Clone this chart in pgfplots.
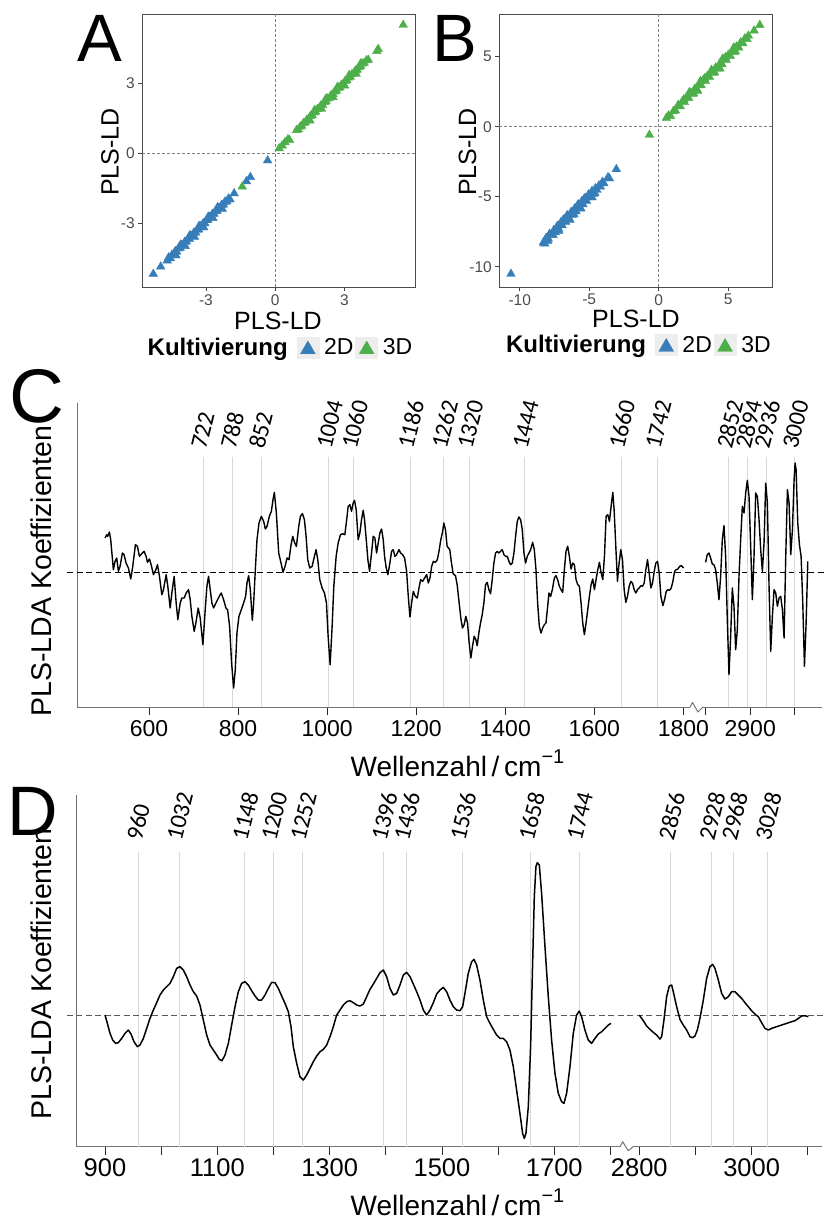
\documentclass[border=0pt]{standalone}
\usepackage{pgfplots}
\pgfplotsset{compat=1.18}
\usepackage{fontspec}
\setmainfont{Liberation Sans}
\newfontfamily\calib{Carlito}
\definecolor{cblue}{RGB}{55,126,184}
\definecolor{cgreen}{RGB}{77,175,74}
\newcommand{\fs}[1]{\fontsize{#1}{#1}\selectfont}
\tikzset{vl/.style={black!15, line width=0.9pt}}
\pgfplotsset{
 sc/.style={scale only axis, width=273pt, height=273pt, anchor=south west,
   axis line style={draw=black!70, line width=0.9pt},
   tick align=outside, xtick pos=left, ytick pos=left, major tick length=3.7pt,
   tick style={black!75, line width=0.9pt},
   tick label style={font=\fs{15.5}, text=black!70},
   /pgf/number format/assume math mode=true,
   clip=false,
   legend style={draw=none, fill=none, legend columns=-1, font=\fs{23}, inner sep=0pt,
     /tikz/every odd column/.append style={column sep=3pt}},
   legend cell align=left},
 tri/.style={only marks, color=#1, mark=triangle*, mark size=5pt, mark options={draw=#1, fill=#1, line width=0.4pt},
   legend image code/.code={\fill[black!7] (0pt,-10.5pt) rectangle (22pt,10.5pt); \draw[mark size=8.5pt] plot coordinates {(11pt,-2pt)};}},
 sp/.style={scale only axis, anchor=south west, clip=false,
   axis x line*=bottom, xtick align=outside, ytick=\empty,
   major tick length=8pt,
   axis line style={draw=black!55, line width=1pt},
   tick style={black!85, line width=0.9pt},
   /pgf/number format/assume math mode=true},
 cv/.style={black, line width=1.4pt, line join=round},
}
\newcommand{\ktitle}{\makebox[147pt][l]{\fs{24}\textbf{Kultivierung}}}
\begin{document}
\begin{tikzpicture}
\path[use as bounding box] (0,0) rectangle (826pt,-1220pt);

% ---------------- Panel A ----------------
\begin{axis}[sc, at={(142pt,-287pt)}, xmin=-5.77, xmax=6.05, ymin=-5.73, ymax=5.97,
  xtick={-3,0,3}, xticklabels={-3,0,3}, ytick={-3,0,3}, yticklabels={-3,0,3},
  legend style={at={(axis description cs:0.5,-0.2216)}, anchor=center}]
\draw[black!50, line width=0.7pt, dash pattern=on 3pt off 2pt] (axis cs:0,-5.73) -- (axis cs:0,5.97);
\draw[black!50, line width=0.7pt, dash pattern=on 3pt off 2pt] (axis cs:-5.77,0) -- (axis cs:6.05,0);
\addlegendimage{empty legend}\addlegendentry{\ktitle}
\addplot[tri=cblue] coordinates {
(-5.28,-5.17) (-4.96,-4.86) (-4.68,-4.60) (-4.62,-4.47) (-4.55,-4.50) (-4.48,-4.36) (-4.40,-4.33)
(-4.33,-4.20) (-4.27,-4.22) (-4.20,-4.08) (-4.12,-4.05) (-4.06,-3.93) (-3.98,-3.91) (-3.92,-3.80)
(-3.85,-3.78) (-3.78,-3.66) (-3.72,-3.67) (-3.65,-3.53) (-3.58,-3.52) (-3.52,-3.40) (-3.45,-3.40)
(-3.38,-3.27) (-3.32,-3.27) (-3.25,-3.13) (-3.18,-3.13) (-3.12,-3.00) (-3.05,-3.00) (-2.98,-2.87)
(-2.92,-2.86) (-2.85,-2.74) (-2.78,-2.73) (-2.72,-2.60) (-2.65,-2.60) (-2.58,-2.47) (-2.52,-2.47)
(-2.45,-2.34) (-2.38,-2.33) (-2.32,-2.21) (-2.25,-2.20) (-2.18,-2.08) (-2.10,-2.06) (-2.02,-1.94)
(-1.96,-1.98) (-1.78,-1.72) (-1.25,-1.20) (-1.08,-1.02) (-0.33,-0.31)
(-4.30,-4.38) (-3.90,-3.98) (-3.50,-3.58) (-3.10,-3.18) (-2.70,-2.78) (-2.30,-2.38)
(-4.10,-3.92) (-3.70,-3.52) (-3.30,-3.12) (-2.90,-2.72) (-2.50,-2.32)};
\addlegendentry{2D}
\addplot[tri=cgreen] coordinates {
(-1.43,-1.43) (0.17,0.21) (0.30,0.33) (0.42,0.47) (0.55,0.60) (0.62,0.56)
(0.92,0.99) (1.00,1.02) (1.08,1.14) (1.15,1.17) (1.22,1.29) (1.30,1.32) (1.37,1.44) (1.45,1.47)
(1.52,1.59) (1.60,1.62) (1.67,1.74) (1.75,1.77) (1.82,1.89) (1.90,1.92) (1.97,2.04) (2.05,2.07)
(2.12,2.19) (2.20,2.22) (2.27,2.34) (2.35,2.37) (2.42,2.49) (2.50,2.52) (2.57,2.64) (2.65,2.67)
(2.72,2.79) (2.80,2.82) (2.87,2.94) (2.95,2.97) (3.02,3.09) (3.10,3.12) (3.17,3.24) (3.25,3.27)
(3.32,3.39) (3.40,3.42) (3.47,3.54) (3.55,3.57) (3.62,3.69) (3.70,3.72) (3.77,3.84) (3.85,3.87)
(3.95,3.98) (4.03,4.00) (4.40,4.38) (4.46,4.46) (5.54,5.50)
(1.50,1.40) (2.00,1.90) (2.50,2.40) (3.00,2.90) (3.50,3.40)
(1.70,1.85) (2.20,2.35) (2.70,2.85) (3.20,3.35) (3.70,3.85)};
\addlegendentry{3D}
\end{axis}

% ---------------- Panel B ----------------
\begin{axis}[sc, at={(499pt,-287pt)}, xmin=-11.49, xmax=8.15, ymin=-11.45, ymax=8.05,
  xtick={-10,-5,0,5}, xticklabels={-10,-5,0,5}, ytick={-10,-5,0,5}, yticklabels={-10,-5,0,5},
  legend style={at={(axis description cs:0.505,-0.2125)}, anchor=center}]
\draw[black!50, line width=0.7pt, dash pattern=on 3pt off 2pt] (axis cs:0,-11.45) -- (axis cs:0,8.05);
\draw[black!50, line width=0.7pt, dash pattern=on 3pt off 2pt] (axis cs:-11.49,0) -- (axis cs:8.15,0);
\addlegendimage{empty legend}\addlegendentry{\ktitle}
\addplot[tri=cblue] coordinates {
(-10.63,-10.52) (-8.30,-8.28) (-8.20,-8.35) (-8.10,-7.95) (-7.95,-8.00) (-7.85,-7.65) (-7.70,-7.75)
(-7.55,-7.40) (-7.45,-7.55) (-7.30,-7.10) (-7.20,-7.30) (-7.05,-6.85) (-6.95,-7.05) (-6.80,-6.60)
(-6.70,-6.80) (-6.55,-6.35) (-6.45,-6.55) (-6.30,-6.10) (-6.20,-6.30) (-6.05,-5.85) (-5.95,-6.05)
(-5.80,-5.60) (-5.70,-5.80) (-5.55,-5.35) (-5.45,-5.55) (-5.30,-5.10) (-5.20,-5.30) (-5.05,-4.85)
(-4.95,-5.05) (-4.80,-4.60) (-4.70,-4.80) (-4.55,-4.40) (-4.45,-4.52) (-4.30,-4.20) (-4.20,-4.28)
(-4.05,-3.95) (-3.95,-4.05) (-3.65,-3.62) (-3.55,-3.70) (-3.05,-3.04)
(-7.60,-7.75) (-6.90,-6.70) (-6.10,-6.25) (-5.40,-5.20) (-4.60,-4.75) (-7.98,-8.15) (-5.00,-4.92)
(-7.20,-7.45) (-6.40,-6.65) (-5.60,-5.85) (-4.80,-5.05) (-6.60,-6.35) (-5.80,-5.55)};
\addlegendentry{2D}
\addplot[tri=cgreen] coordinates {
(-0.67,-0.59) (0.55,0.62) (0.70,0.80) (0.85,0.75) (1.05,1.10) (1.20,1.15) (1.40,1.55) (1.55,1.45)
(1.70,1.80) (1.85,1.75) (2.00,2.10) (2.15,2.05) (2.30,2.42) (2.45,2.35) (2.60,2.72) (2.75,2.65)
(2.90,3.02) (3.05,2.95) (3.20,3.32) (3.35,3.25) (3.50,3.62) (3.65,3.55) (3.80,3.92) (3.95,3.85)
(4.10,4.22) (4.25,4.15) (4.40,4.52) (4.55,4.45) (4.70,4.82) (4.85,4.75) (5.00,5.12) (5.15,5.05)
(5.30,5.42) (5.45,5.35) (5.60,5.72) (5.75,5.65) (5.90,6.02) (6.05,5.95) (6.20,6.30) (6.35,6.25)
(6.45,6.50) (6.86,6.86) (7.27,7.26)
(2.50,2.38) (3.30,3.45) (4.00,3.90) (4.80,4.95) (5.50,5.40) (1.80,1.95)
(2.20,2.45) (3.00,3.25) (3.80,4.05) (4.60,4.85) (5.40,5.65) (2.80,2.55) (4.40,4.15)};
\addlegendentry{3D}
\end{axis}

% ---------------- Panel C left ----------------
\begin{axis}[sp, at={(77pt,-707pt)}, width=613pt, height=304pt,
  xmin=438.3, xmax=1814.9, ymin=-405, ymax=507, axis y line*=left,
  xtick={600,800,...,1800}, xticklabels={600,800,1000,1200,1400,1600,1800},
  xticklabel shift=2pt, tick label style={font=\fs{23}}]
\pgfplotsinvokeforeach{722,788,852,1004,1060,1186,1262,1320,1444,1660,1742}{
  \draw[vl] (axis cs:#1,346) -- (axis cs:#1,-405);
  \node[rotate=76, anchor=west, inner sep=0pt, font=\calib\fs{24}] at ([xshift=-5pt]axis cs:#1,371.5) {#1};}
\draw[black, line width=0.9pt, dash pattern=on 6pt off 3.5pt] (axis cs:415.9,0) -- (axis cs:2120,0);
\addplot[cv] coordinates {
(501.25,102) (505,112) (507.25,107) (511,120) (514,97) (520,7) (523.75,32) (527.5,42) (531.25,2)
(535,17) (540.25,57) (544,52) (548.5,27) (553.75,12) (559,-21) (563.5,17) (569.5,82) (574,77)
(578.5,47) (583.75,55) (589,62) (593.5,47) (596.5,29) (601,39) (604.75,22) (610,-8) (615.25,7)
(619,22) (623.5,-13) (628.75,-68) (632.5,-53) (638.5,-8) (642.25,-43) (647.5,-108) (651.25,-63)
(656.5,-13) (661,-93) (664.75,-143) (670,-93) (673.75,-78) (679,-78) (683.5,-63) (688.75,-53)
(692.5,-83) (696.25,-133) (701.5,-178) (705.25,-153) (710.5,-108) (715,-138) (721,-218)
(726.25,-113) (730,-43) (733.75,-13) (737.5,-53) (741.25,-93) (745,-108) (750.25,-93) (754,-83)
(758.5,-71) (762.25,-63) (767.5,-83) (772.75,-108) (776.5,-113) (781,-163) (785.5,-273) (790,-348)
(793.75,-293) (797.5,-183) (802,-133) (807.25,-113) (812.5,-93) (817,-73) (820,-33) (823.75,-11)
(827.5,-53) (832,-145) (835,-93) (838.75,7) (842.5,97) (847,147) (852.25,167) (857.5,152)
(861.25,129) (865,137) (870.25,167) (874.75,182) (878.5,217) (881.5,239) (886,177) (891.25,57)
(896.5,27) (901,-1) (905.5,17) (910,42) (914.5,37) (919,82) (922.75,107) (927.25,87) (931,77)
(936.25,137) (940,167) (944.5,175) (949,157) (952.75,107) (956.5,37) (961,12) (966.25,17)
(971.5,47) (975.25,67) (979,37) (983.5,-23) (988.75,-48) (994,-63) (998.5,-93) (1002.25,-193)
(1006.75,-278) (1011.25,-163) (1015,-43) (1020.25,47) (1024.75,87) (1030,112) (1034.5,115)
(1039.75,112) (1043.5,152) (1047.25,197) (1051,202) (1054.75,182) (1058.5,207) (1061.5,215)
(1065.25,187) (1069.75,97) (1073.5,117) (1077.25,157) (1081,185) (1084,157) (1088.5,87)
(1091.5,37) (1095.25,2) (1099.75,57) (1103.5,107) (1107.25,102) (1111,57) (1114.75,87)
(1118.5,117) (1122.25,129) (1126,97) (1129,47) (1132.75,12) (1136.5,-8) (1141,27) (1144.75,62)
(1148.5,67) (1152.25,47) (1156,52) (1161.25,67) (1165,57) (1169.5,52) (1174,42) (1178.5,2)
(1182.25,-73) (1186,-135) (1189.75,-93) (1193.5,-58) (1198,-73) (1202.5,-78) (1206.25,-48)
(1210,-23) (1214.5,-28) (1219,-18) (1223.5,-8) (1227.25,-33) (1231,-18) (1234.75,17) (1238.5,32)
(1243,29) (1247.5,37) (1251.25,62) (1255,95) (1259.5,122) (1262,147) (1265.75,127) (1269.5,77)
(1275.5,67) (1279.25,27) (1283,-5) (1288.25,-11) (1292,-38) (1296.5,-93) (1300.25,-138)
(1304,-168) (1307.75,-158) (1311.5,-133) (1315.25,-153) (1319,-213) (1322.75,-258) (1326.5,-223)
(1330.25,-193) (1334,-203) (1337,-221) (1340.75,-183) (1344.5,-153) (1348.25,-128) (1352,-93)
(1355.75,-38) (1359.5,-31) (1363.25,-53) (1367,-65) (1370.75,-23) (1374.5,27) (1378.25,57)
(1382,62) (1385.75,57) (1389.5,62) (1393.25,67) (1397,52) (1400.75,47) (1404.5,47) (1408.25,32)
(1412,22) (1415.75,27) (1419.5,57) (1423.25,107) (1427,152) (1430.75,165) (1434.5,157)
(1438.25,127) (1442,57) (1445.75,27) (1449.5,47) (1453.25,57) (1457,67) (1461.5,89) (1465.25,67)
(1469,7) (1472.75,-93) (1476.5,-163) (1480.25,-183) (1484,-168) (1487.75,-158) (1491.5,-153)
(1494.5,-113) (1498.25,-63) (1502,-73) (1505.75,-53) (1510.25,-18) (1514,-11) (1517.75,-23)
(1521.5,-43) (1525.25,-53) (1529,-61) (1532.75,7) (1536.5,62) (1540.25,77) (1544,47) (1547.75,9)
(1551.5,27) (1555.25,22) (1559,-23) (1562.75,-38) (1566.5,-43) (1570.25,-93) (1574,-153)
(1577.75,-188) (1581.5,-153) (1585.25,-113) (1589,-73) (1592.75,-38) (1596.5,-21) (1600.25,-53)
(1604,-23) (1607.75,7) (1611.5,29) (1615.25,-3) (1619,-23) (1622.75,47) (1626.5,167)
(1630.25,172) (1634,152) (1637.75,197) (1641.5,239) (1644.5,187) (1648.25,77) (1652,-28)
(1655.75,27) (1659.5,67) (1663.25,37) (1667,-53) (1670.75,-91) (1674.5,-73) (1678.25,-43)
(1682,-28) (1685.75,-33) (1689.5,-53) (1693.25,-63) (1697,-53) (1700.75,-48) (1704.5,-41)
(1708.25,-43) (1712,-33) (1715.75,7) (1719.5,37) (1723.25,-3) (1727,-48) (1730.75,-33)
(1734.5,2) (1738.25,27) (1742,32) (1745.75,-3) (1749.5,-73) (1754,-101) (1757.75,-83)
(1761.5,-58) (1765.25,-53) (1769,-55) (1772.75,-48) (1776.5,-28) (1780.25,2) (1784,7)
(1787.75,9) (1791.5,17) (1795.25,19) (1800.5,12)};
\end{axis}

% ---------------- Panel C right ----------------
\begin{axis}[sp, at={(703pt,-707pt)}, width=119pt, height=304pt,
  xmin=2793.9, xmax=3061.2, ymin=-405, ymax=507, axis y line=none,
  xtick={2800,2900,3000}, xticklabels={,2900,},
  xticklabel shift=2pt, tick label style={font=\fs{23}}]
\pgfplotsinvokeforeach{2852,2894,2936,3000}{
  \draw[vl] (axis cs:#1,346) -- (axis cs:#1,-405);
  \node[rotate=76, anchor=west, inner sep=0pt, font=\calib\fs{24}] at ([xshift=-5pt]axis cs:#1,371.5) {#1};}
\addplot[cv] coordinates {
(2799.75,29) (2803.5,52) (2807.25,57) (2811,42) (2814.75,24) (2818.5,22) (2822.25,7) (2826,-33)
(2829.75,-83) (2833.5,-13) (2837.25,97) (2841,139) (2844.75,47) (2848.5,-143) (2852.25,-308)
(2856,-193) (2859.75,-48) (2863.5,-103) (2867.25,-233) (2871,-173) (2874.75,-13) (2878.5,97)
(2882.25,197) (2886,177) (2889.75,237) (2893.5,275) (2897.25,227) (2901,77) (2904.75,-83)
(2908.5,47) (2912.25,237) (2916,227) (2919.75,157) (2923.5,67) (2927.25,2) (2931,87)
(2934.75,267) (2938.5,207) (2942.25,-43) (2946,-238) (2949.75,-133) (2953.5,-53) (2957.25,-63)
(2961,-103) (2964.75,-78) (2968.5,-73) (2972.25,-113) (2976,-198) (2979.75,47) (2983.5,247)
(2987.25,207) (2991,52) (2994.75,127) (2998.5,277) (3000.75,327) (3003,307) (3006.75,147)
(3010.5,82) (3014.25,47) (3018,-93) (3021.75,-283) (3025.5,-153) (3029.25,32)};
\end{axis}

% ---------------- Panel D left ----------------
\begin{axis}[sp, at={(76.7pt,-1146.7pt)}, width=543.3pt, height=351.7pt,
  xmin=849.6, xmax=1817, ymin=-395, ymax=660, axis y line*=left,
  xtick={900,1000,...,1800}, xticklabels={900,,1100,,1300,,1500,,1700,},
  tick label style={font=\fs{25.5}}]
\pgfplotsinvokeforeach{960,1032,1148,1200,1252,1396,1436,1536,1658,1744}{
  \draw[vl] (axis cs:#1,489) -- (axis cs:#1,-395);
  \node[rotate=76, anchor=west, inner sep=0pt, font=\calib\fs{24}] at ([xshift=-5pt]axis cs:#1,525) {#1};}
\draw[black!65, line width=1pt, dash pattern=on 6pt off 3.5pt] (axis cs:832.3,0) -- (axis cs:2183.6,0);
\addplot[cv, line width=1.5pt] coordinates {
(900.0,0) (904.2,-25) (908.9,-55) (913.7,-75) (919.0,-85) (923.7,-83) (929.7,-70) (935.6,-55)
(941.5,-45) (946.3,-57) (951.6,-80) (957.6,-95) (962.3,-90) (968.3,-70) (974.2,-40) (980.1,-10)
(986.1,15) (992.0,37) (997.9,60) (1003.9,75) (1009.8,85) (1015.7,95) (1021.7,115) (1027.6,140)
(1033.5,145) (1039.5,135) (1045.4,115) (1051.3,90) (1057.3,70) (1063.2,57) (1069.1,30)
(1075.1,-15) (1081.0,-60) (1087.0,-90) (1092.9,-105) (1098.8,-120) (1103.6,-133) (1108.3,-137)
(1113.7,-120) (1119.6,-85) (1125.5,-30) (1131.5,25) (1137.4,70) (1143.3,95) (1149.3,100)
(1155.2,90) (1161.1,73) (1167.1,57) (1173.0,45) (1178.9,45) (1184.9,60) (1190.8,80) (1196.8,98)
(1202.7,97) (1208.6,80) (1214.6,57) (1220.5,35) (1226.4,10) (1231.2,-35) (1235.3,-95)
(1241.3,-145) (1247.2,-185) (1253.1,-195) (1259.1,-180) (1265.0,-160) (1270.9,-140)
(1276.9,-123) (1282.8,-110) (1288.7,-103) (1294.7,-90) (1300.6,-65) (1306.5,-35) (1312.5,0)
(1318.4,15) (1324.4,30) (1330.3,40) (1336.2,43) (1342.2,37) (1348.1,30) (1354.0,27) (1360.0,33)
(1365.9,55) (1371.8,77) (1377.8,93) (1383.7,110) (1389.6,127) (1395.6,135) (1401.5,115)
(1407.4,80) (1413.4,60) (1419.3,65) (1425.2,90) (1431.2,120) (1437.1,128) (1443.1,115)
(1449.0,93) (1454.9,70) (1460.9,45) (1466.8,15) (1472.7,0) (1478.7,15) (1484.6,37) (1490.5,63)
(1496.5,75) (1502.3,83) (1508.3,70) (1514.2,45) (1520.1,25) (1526.1,15) (1532.0,13) (1536.8,25)
(1540.9,65) (1546.8,125) (1552.8,160) (1556.9,167) (1561.7,150) (1567.6,105) (1573.6,45)
(1579.5,-5) (1585.4,-25) (1591.4,-43) (1597.3,-60) (1603.2,-70) (1609.2,-70) (1615.1,-80)
(1621.0,-105) (1627.0,-155) (1632.9,-225) (1638.8,-295) (1643.6,-355) (1646.6,-370)
(1649.5,-355) (1653.7,-275) (1657.8,-95) (1661.4,155) (1664.4,355) (1667.3,445) (1669.7,457)
(1673.3,450) (1677.4,365) (1683.4,205) (1689.3,55) (1695.2,-75) (1701.2,-175) (1707.1,-235)
(1713.0,-260) (1717.2,-265) (1721.9,-235) (1727.9,-155) (1733.8,-55) (1739.7,0) (1744.5,12)
(1748.6,-5) (1754.6,-45) (1760.5,-75) (1766.4,-85) (1772.4,-70) (1778.3,-57) (1784.3,-50)
(1790.2,-40) (1796.1,-30) (1800.9,-25)};
\end{axis}

% ---------------- Panel D right ----------------
\begin{axis}[sp, at={(633pt,-1146.7pt)}, width=189pt, height=351.7pt,
  xmin=2788.8, xmax=3125.3, ymin=-395, ymax=660, axis y line=none,
  xtick={2800,2900,3000,3100}, xticklabels={2800,,3000,},
  tick label style={font=\fs{25.5}}]
\pgfplotsinvokeforeach{2856,2928,2968,3028}{
  \draw[vl] (axis cs:#1,489) -- (axis cs:#1,-395);
  \node[rotate=76, anchor=west, inner sep=0pt, font=\calib\fs{24}] at ([xshift=-5pt]axis cs:#1,525) {#1};}
\addplot[cv, line width=1.5pt] coordinates {
(2800.0,0) (2807.1,-17) (2813.1,-33) (2819.0,-43) (2824.9,-52) (2830.9,-60) (2836.8,-72)
(2839.8,-65) (2843.9,-15) (2848.7,55) (2853.4,87) (2857.6,90) (2860.5,70) (2866.5,25)
(2872.4,-13) (2878.3,-30) (2884.3,-45) (2890.2,-65) (2895.0,-68) (2899.1,-63) (2903.3,-45)
(2908.0,-10) (2914.0,45) (2919.9,110) (2925.8,145) (2930.6,152) (2934.7,140) (2940.7,105)
(2946.6,65) (2952.5,48) (2958.5,55) (2964.4,70) (2970.3,70) (2976.3,60) (2982.2,50) (2988.1,37)
(2994.1,25) (3000.0,13) (3005.9,3) (3011.9,-5) (3017.8,-23) (3023.7,-40) (3029.7,-45)
(3035.6,-40) (3044.5,-35) (3053.4,-30) (3062.3,-25) (3071.2,-20) (3077.2,-17) (3083.1,-10)
(3089.0,-3) (3095.0,-2) (3100.9,-5)};
\end{axis}

% axis breaks
\draw[black!55, line width=1pt, line join=round] (690pt,-707pt) -- (692.5pt,-702.5pt) -- (698pt,-712pt) -- (703pt,-707pt);
\draw[black!55, line width=1pt, line join=round] (620pt,-1146.7pt) -- (622.7pt,-1141.7pt) -- (628.3pt,-1150.7pt) -- (633pt,-1146.7pt);

% titles and labels
\node[anchor=base west, inner sep=0pt, font=\fs{67}] at (77pt,-62pt) {A};
\node[anchor=base west, inner sep=0pt, font=\fs{67}] at (432.6pt,-62pt) {B};
\node[anchor=base west, inner sep=0pt, font=\fs{76}] at (9pt,-422pt) {C};
\node[anchor=base west, inner sep=0pt, font=\fs{70}] at (7.5pt,-835pt) {D};
\node[rotate=90, inner sep=0pt, font=\fs{25}] at (110pt,-152pt) {PLS-LD};
\node[rotate=90, inner sep=0pt, font=\fs{25}] at (467.5pt,-152pt) {PLS-LD};
\node[inner sep=0pt, font=\fs{25}] at (278pt,-321pt) {PLS-LD};
\node[inner sep=0pt, font=\fs{25}] at (636pt,-319pt) {PLS-LD};
\node[rotate=90, inner sep=0pt, font=\fs{28.5}] at (41pt,-571pt) {PLS-LDA Koeffizienten};
\node[rotate=90, inner sep=0pt, font=\fs{28.5}] at (41pt,-974pt) {PLS-LDA Koeffizienten};
\node[anchor=base, inner sep=0pt, font=\fs{28}] at (457.5pt,-776pt) {Wellenzahl\,/\,cm\raisebox{0.85ex}{\fs{20}−1}};
\node[anchor=base, inner sep=0pt, font=\fs{28}] at (457.5pt,-1215pt) {Wellenzahl\,/\,cm\raisebox{0.85ex}{\fs{20}−1}};
\end{tikzpicture}
\end{document}
